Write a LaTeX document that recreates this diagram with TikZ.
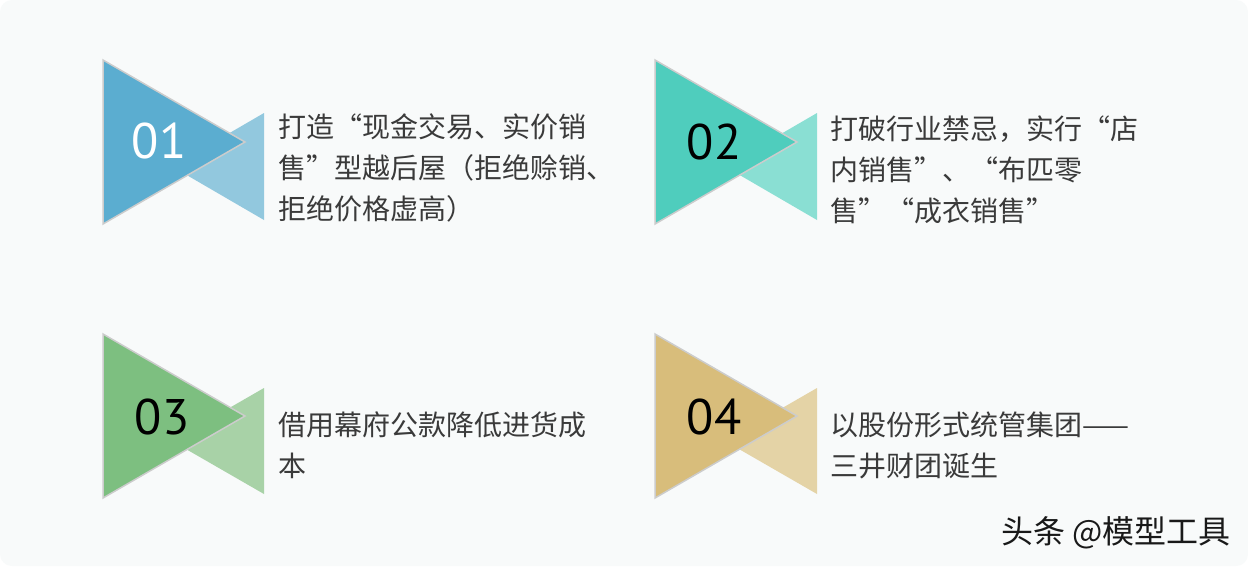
\documentclass[tikz,border=0pt]{standalone}
\usepackage{fontspec}
\usepackage{xcolor}
\usepackage{tikz}
\setmainfont{Noto Sans CJK SC}
\newfontfamily\numfont{PT Sans}

\definecolor{bgcol}{HTML}{F8FAFA}
\definecolor{txtcol}{HTML}{3A3A3A}
\definecolor{blueA}{HTML}{5BADD0}
\definecolor{blueB}{HTML}{92C8DE}
\definecolor{tealA}{HTML}{4FCDBD}
\definecolor{tealB}{HTML}{8ADFD3}
\definecolor{greenA}{HTML}{7DBF80}
\definecolor{greenB}{HTML}{A8D2A7}
\definecolor{goldA}{HTML}{D8BD7B}
\definecolor{goldB}{HTML}{E4D3A6}

\begin{document}
\begin{tikzpicture}[x=1pt,y=-1pt,
    bigtri/.style={draw=black!20,line width=1.5pt,line join=miter},
    numtxt/.style={font=\numfont\fontsize{50}{50}\selectfont,inner sep=0pt},
    desc/.style={anchor=west,align=left,inner sep=0pt,text=txtcol,font=\fontsize{28}{41}\selectfont},
    wmark/.style={font=\fontsize{32}{32}\selectfont,inner sep=0pt}]
        \fill[white] (0,0) rectangle (1248,566);
        \fill[bgcol,rounded corners=12pt] (0,0) rectangle (1248,566);
        \useasboundingbox (0,0) rectangle (1248,566);
        % 01
        \fill[blueB] (264,113) -- (264,220) -- (172,166.5) -- cycle;
        \draw[bigtri,fill=blueA] (103,60) -- (103,224) -- (245,142) -- cycle;
        \node[numtxt,text=white] (n1) at (159,141) {01};
        \node[desc] (t1) at (278,168) {打造“现金交易、实价销\\售”型越后屋（拒绝赊销、\\拒绝价格虚高）};
        % 02
        \fill[tealB] (817,113) -- (817,220) -- (725,166.5) -- cycle;
        \draw[bigtri,fill=tealA] (655,60) -- (655,224) -- (797,142) -- cycle;
        \node[numtxt,text=black] (n2) at (714,142) {02};
        \node[desc] (t2) at (830,170) {打破行业禁忌，实行“店\\内销售”、“布匹零\\售”“成衣销售”};
        % 03
        \fill[greenB] (264,388) -- (264,494) -- (172,441) -- cycle;
        \draw[bigtri,fill=greenA] (103,334) -- (103,498) -- (245,416) -- cycle;
        \node[numtxt,text=black] (n3) at (162,417) {03};
        \node[desc] (t3) at (278,445) {借用幕府公款降低进货成\\本};
        % 04
        \fill[goldB] (817,388) -- (817,494) -- (725,441) -- cycle;
        \draw[bigtri,fill=goldA] (655,334) -- (655,498) -- (797,416) -- cycle;
        \node[numtxt,text=black] (n4) at (714,417) {04};
        \node[desc] (t4) at (830,445) {以股份形式统管集团——\\三井财团诞生};
        % watermark
        \node[wmark,anchor=east,text=black!90] (wm) at (1231,533) {头条 @模型工具};
    \end{tikzpicture}
\end{document}
